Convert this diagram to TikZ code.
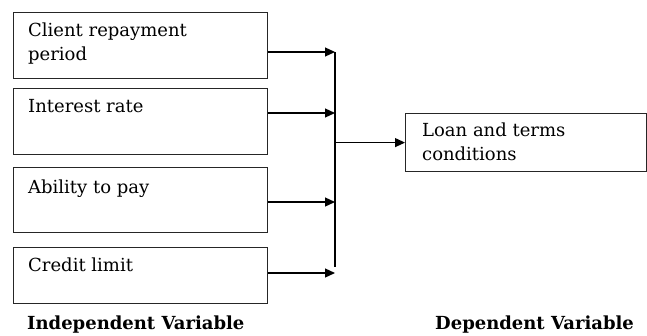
\documentclass[tikz,border=0pt]{standalone}
\usepackage{fontspec}
\setmainfont{DejaVu Serif}
\usetikzlibrary{arrows.meta, positioning, calc}
\tikzset{
    varbox/.style={
        draw=black!85,
        line width=1.2pt,
        minimum width=254pt,
        minimum height=#1,
        anchor=north west,
        inner sep=0pt
    },
    varbox/.default=66pt,
    boxtext/.style={
        anchor=north west,
        align=left,
        inner sep=0pt,
        font=\fontsize{18}{24}\selectfont
    },
    arrow/.style={
        -{Triangle[length=10pt,width=9pt]},
        line width=1.2pt,
        black
    },
    heading/.style={
        anchor=base west,
        inner sep=0pt,
        font=\fontsize{18}{20}\selectfont\bfseries
    }
}
\begin{document}
\begin{tikzpicture}[x=1pt, y=-1pt]
    \useasboundingbox (0,0) rectangle (647,335);

    % Independent variables
    \node[varbox] (clientbox) at (13,12) {};
    \node[boxtext] (clienttext) at ($(clientbox.north west)+(15,11)$) {Client repayment\\period};

    \node[varbox] (interestbox) at (13,88) {};
    \node[boxtext] (interesttext) at ($(interestbox.north west)+(15,11)$) {Interest rate};

    \node[varbox, minimum height=65pt] (abilitybox) at (13,167) {};
    \node[boxtext] (abilitytext) at ($(abilitybox.north west)+(15,13)$) {Ability to pay};

    \node[varbox=56pt] (creditbox) at (13,247) {};
    \node[boxtext] (credittext) at ($(creditbox.north west)+(15,11)$) {Credit limit};

    % Dependent variable
    \node[varbox=58pt, minimum width=241pt] (loanbox) at (405,113) {};
    \node[boxtext] (loantext) at ($(loanbox.north west)+(17,10)$) {Loan and terms\\conditions};

    % Bus line
    \coordinate (bus1) at (335,52);
    \coordinate (bus2) at (335,113);
    \coordinate (bus3) at (335,202);
    \coordinate (bus4) at (335,273);
    \coordinate (busend) at (335,267);

    % Arrows
    \draw[arrow] (clientbox.east |- bus1) -- (bus1);
    \draw[arrow] (interestbox.east |- bus2) -- (bus2);
    \draw[arrow] (abilitybox.east |- bus3) -- (bus3);
    \draw[arrow] (creditbox.east |- bus4) -- (bus4);
    \draw[line width=1.2pt] (bus1) -- (busend);
    \draw[arrow] (loanbox.west -| bus1) -- (loanbox.west);

    % Headings
    \node[heading] (indeplabel) at (27,329) {Independent Variable};
    \node[heading] (deplabel) at (435,329) {Dependent Variable};
\end{tikzpicture}
\end{document}
